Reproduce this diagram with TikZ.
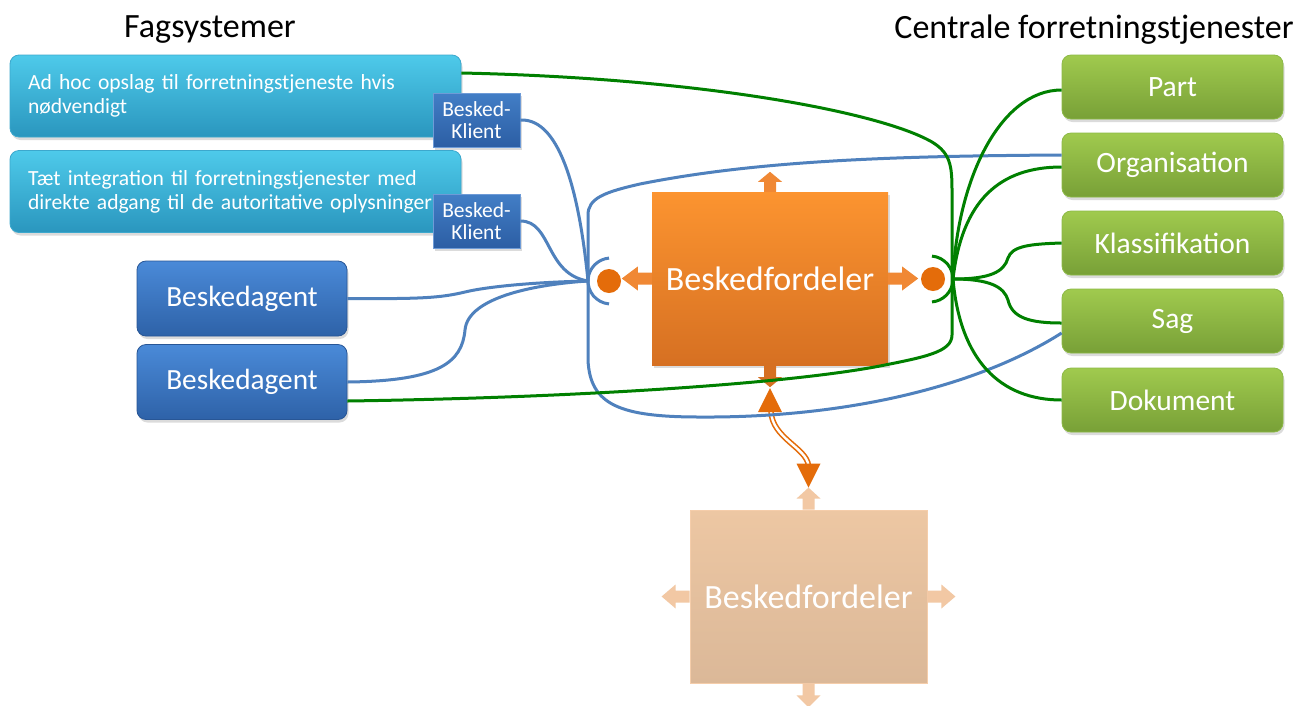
\documentclass[tikz,border=0pt]{standalone}
\usepackage{fontspec}
\setmainfont{Carlito}
\usetikzlibrary{calc,shadows}

\definecolor{cyanTop}{RGB}{78,202,234}
\definecolor{cyanBot}{RGB}{42,150,190}
\definecolor{cyanEdge}{RGB}{60,168,205}
\definecolor{klTop}{RGB}{66,126,198}
\definecolor{klBot}{RGB}{44,94,164}
\definecolor{klEdge}{RGB}{110,155,215}
\definecolor{agTop}{RGB}{74,138,216}
\definecolor{agBot}{RGB}{46,98,168}
\definecolor{agEdge}{RGB}{40,86,150}
\definecolor{grTop}{RGB}{160,202,78}
\definecolor{grBot}{RGB}{120,160,55}
\definecolor{grEdge}{RGB}{140,185,70}
\definecolor{orTop}{RGB}{252,148,48}
\definecolor{orBot}{RGB}{214,112,34}
\definecolor{orArrow}{RGB}{240,136,52}
\definecolor{fdTop}{RGB}{237,199,163}
\definecolor{fdBot}{RGB}{219,184,152}
\definecolor{fdArrow}{RGB}{242,200,164}
\definecolor{fdEdge}{RGB}{245,205,170}
\definecolor{lineBlue}{RGB}{79,129,189}
\definecolor{lineGreen}{RGB}{0,128,0}
\definecolor{dotOrange}{RGB}{228,108,10}

% block arrow: start point, direction, colour, total length, head length
\newcommand{\blockarrow}[5]{%
  \fill[#3, shift={(#1)}, rotate=#2]
    (0,-6) -- (#4-#5,-6) -- (#4-#5,-12) -- (#4,0) -- (#4-#5,12) -- (#4-#5,6) -- (0,6) -- cycle;}

\begin{document}
\begin{tikzpicture}[x=1pt,y=-1pt,
  title/.style={font=\fontsize{34}{38}\selectfont, text=black, inner sep=0pt},
  shadowed/.style={drop shadow={opacity=0.28, shadow xshift=1.5pt, shadow yshift=-3pt}},
  cyanbox/.style={shadowed, rounded corners=9pt, top color=cyanTop, bottom color=cyanBot,
    draw=cyanEdge, line width=0.8pt, minimum width=451pt, minimum height=82pt,
    text width=415pt, align=left, inner xsep=18pt, text=white,
    font=\fontsize{21.6}{24}\selectfont},
  klient/.style={shadowed, top color=klTop, bottom color=klBot, draw=klEdge, line width=0.8pt,
    minimum width=87pt, minimum height=54pt, inner sep=0pt, align=center, text=white,
    font=\fontsize{21.5}{22}\selectfont},
  agent/.style={shadowed, rounded corners=9pt, top color=agTop, bottom color=agBot,
    draw=agEdge, line width=0.8pt, minimum width=210pt, minimum height=75pt, text=white,
    font=\fontsize{29.3}{32}\selectfont},
  service/.style={shadowed, rounded corners=9pt, top color=grTop, bottom color=grBot,
    draw=grEdge, line width=0.8pt, minimum width=221pt, minimum height=64pt, text=white,
    font=\fontsize{29.5}{32}\selectfont},
  mainbox/.style={shadowed, top color=orTop, bottom color=orBot, minimum width=236pt,
    minimum height=173pt, text=white, font=\fontsize{34}{38}\selectfont},
  fadebox/.style={top color=fdTop, bottom color=fdBot, draw=fdEdge, line width=0.8pt,
    minimum width=237pt, minimum height=173pt, text=white, font=\fontsize{34}{38}\selectfont},
  dot/.style={circle, fill=dotOrange, minimum size=24pt, inner sep=0pt},
  bline/.style={draw=lineBlue, line width=3pt},
  gline/.style={draw=lineGreen, line width=3pt},
]
\useasboundingbox[fill=white] (0,0) rectangle (1296,705);

% column headings
\node[title] (tFag) at (210,30) {Fagsystemer};
\node[title] (tCen) at (1094,30) {Centrale forretningstjenester};

% business systems
\node[cyanbox] (adhoc) at (235.5,96) {Ad hoc opslag til forretningstjeneste hvis\\nødvendigt};
\node[cyanbox] (taet) at (235.5,191.5) {Tæt integration til forretningstjenester med\\direkte adgang til de autoritative oplysninger};
\node[klient] (kl1) at (476.5,120) {Besked-\\Klient};
\node[klient] (kl2) at (476.5,221) {Besked-\\Klient};
\node[agent] (agA) at (242,298.5) {Beskedagent};
\node[agent] (agB) at (242,382) {Beskedagent};

% central business services
\node[service] (part)  at (1172.5,87)  {Part};
\node[service] (org)   at (1172.5,165) {Organisation};
\node[service] (klass) at (1172.5,243) {Klassifikation};
\node[service] (sag)   at (1172.5,321) {Sag};
\node[service] (dok)   at (1172.5,400) {Dokument};

% message distributors
\node[mainbox] (bf) at (770,278.5) {Beskedfordeler};
\node[fadebox] (bf2) at (808.5,596.5) {Beskedfordeler};

% arrows out of the distributors
\blockarrow{bf.north}{90}{orArrow}{20}{10}
\blockarrow{bf.south}{-90}{orBot}{22}{10}
\blockarrow{bf.west}{180}{orArrow}{30}{16}
\blockarrow{bf.east}{0}{orArrow}{30}{16}
\blockarrow{bf2.north}{90}{fdArrow}{22}{11}
\blockarrow{bf2.south}{-90}{fdArrow}{24}{12}
\blockarrow{bf2.west}{180}{fdArrow}{28}{14}
\blockarrow{bf2.east}{0}{fdArrow}{28}{14}

% ports
\node[dot] (dotL) at (609,281) {};
\node[dot] (dotR) at (933,279) {};
\coordinate (sockL) at (588,281);
\coordinate (sockR) at (953,279);
\draw[bline] (611,281) ++(95:23) arc[start angle=95, end angle=265, radius=23];
\draw[gline] (930,279) ++(-85:23) arc[start angle=-85, end angle=85, radius=23];

% link between the two distributors
\coordinate (linkTop) at ($(bf.south)+(0,23)$);
\coordinate (linkBot) at ($(bf2.north)+(0,-22)$);
\draw[draw=dotOrange, line width=1.6pt, double=white, double distance=2.4pt]
  ($(linkTop)+(1,23)$) .. controls ($(linkTop)+(2,50)$) and ($(linkBot)+(-2,-40)$) .. ($(linkBot)+(0,-22)$);
\fill[dotOrange] (linkTop) -- ++(-12,24) -- ++(24,0) -- cycle;
\fill[dotOrange] (linkBot) -- ++(-12,-24) -- ++(24,0) -- cycle;

% blue connections
\draw[bline] (kl1.east) .. controls (562,118) and (580,200) .. (sockL);
\draw[bline] (kl2.east) .. controls (552,221) and (545,274) .. (sockL);
\draw[bline] (agA.east) .. controls (420,299) and (440,298) .. (465,292)
  .. controls (490,286) and (540,282) .. (sockL);
\draw[bline] (agB.east) .. controls (440,381) and (462,362) .. (465,330)
  .. controls (468,296) and (540,284) .. (sockL);
\draw[bline] (sockL) -- (588,215) .. controls (588,198) and (605,192) .. (640,184)
  .. controls (760,160) and (900,156) .. ($(org.west)+(0,-10)$);
\draw[bline] (sockL) -- (588,360) .. controls (590,405) and (620,417) .. (700,417)
  .. controls (850,418) and (980,385) .. ($(sag.west)+(0,12)$);

% green connections
\draw[gline] ($(adhoc.east)+(0,-23)$) .. controls (700,78) and (880,112) .. (932,142)
  .. controls (950,153) and (952,165) .. (952,190) -- (952,335)
  .. controls (952,352) and (925,357) .. (880,366)
  .. controls (780,385) and (560,398) .. ($(agB.east)+(0,19)$);
\draw[gline] (sockR) .. controls (957,180) and (1000,90) .. ($(part.west)+(0,3)$);
\draw[gline] (sockR) .. controls (962,200) and (1000,167) .. ($(org.west)+(0,2)$);
\draw[gline] (sockR) .. controls (990,279) and (1004,272) .. (1008,258)
  .. controls (1012,246) and (1030,244) .. (klass.west);
\draw[gline] (sockR) .. controls (990,279) and (1004,287) .. (1008,300)
  .. controls (1012,318) and (1030,323) .. ($(sag.west)+(0,2)$);
\draw[gline] (sockR) .. controls (960,360) and (1000,400) .. (dok.west);
\end{tikzpicture}
\end{document}
